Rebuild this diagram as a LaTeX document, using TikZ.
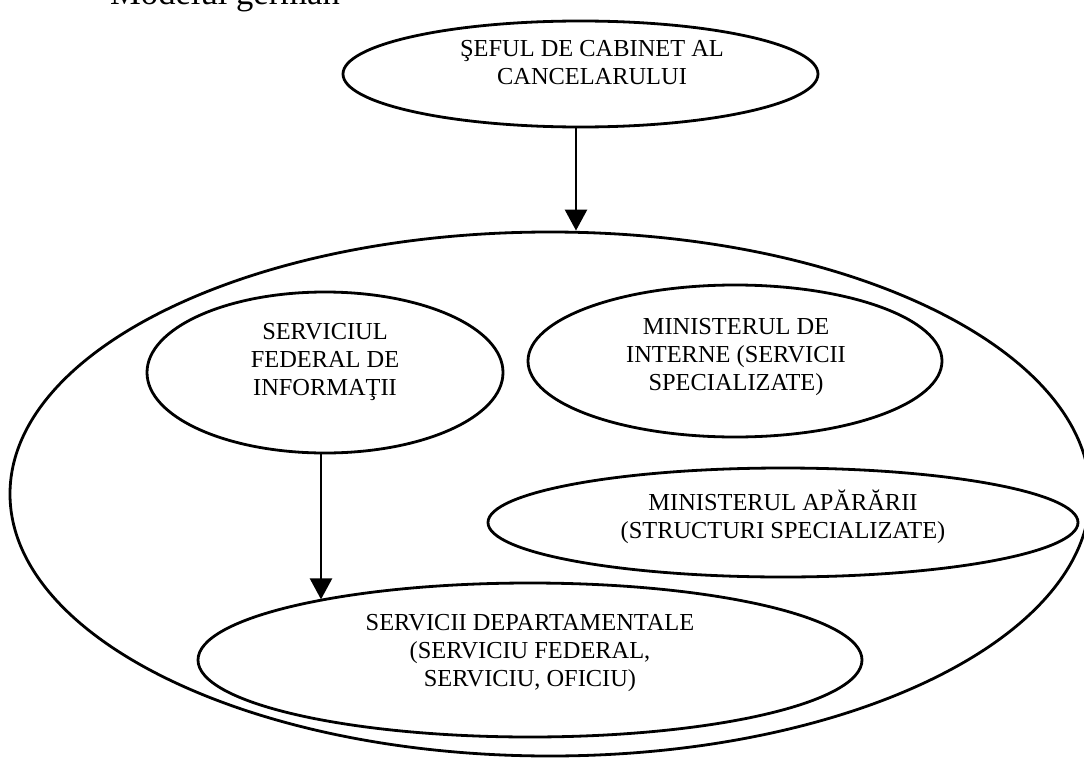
\documentclass[tikz,border=0pt]{standalone}
\usepackage{fontspec}
\setmainfont{Liberation Serif}
\usetikzlibrary{shapes.geometric,arrows.meta}

\tikzset{
  oval/.style={draw, ellipse, line width=2.8pt, inner sep=0pt},
  lbl/.style={align=center, font=\fontsize{24.4}{28}\selectfont, inner sep=0pt},
  arr/.style={line width=2.6pt, -{Triangle[width=22pt,length=21pt]}}
}

\begin{document}
\begin{tikzpicture}[x=1pt,y=-1pt]
\useasboundingbox (0,0) rectangle (1084,760);

% title
\node[anchor=base west, font=\fontsize{34.6}{38}\selectfont, inner sep=0pt] (title) at (110,5) {Modelul german};

% chief of the chancellor's cabinet
\node[oval, minimum width=475pt, minimum height=106pt] (sef) at (580.5,74) {};
\node[lbl] (sef-t) at (592,63) {ŞEFUL DE CABINET AL\\CANCELARULUI};

% the enclosing community
\node[oval, minimum width=1080pt, minimum height=524pt] (all) at (550,494) {};

% member services
\node[oval, minimum width=356pt, minimum height=161pt] (bnd) at (325,372.5) {};
\node[lbl] (bnd-t) at (325,362) {SERVICIUL\\FEDERAL DE\\INFORMAŢII};

\node[oval, minimum width=414pt, minimum height=152pt] (int) at (735,361) {};
\node[lbl] (int-t) at (736,357) {MINISTERUL DE\\INTERNE (SERVICII\\SPECIALIZATE)};

\node[oval, minimum width=590pt, minimum height=109pt] (def) at (783,522.5) {};
\node[lbl] (def-t) at (783,517) {MINISTERUL APĂRĂRII\\(STRUCTURI SPECIALIZATE)};

\node[oval, minimum width=664pt, minimum height=154pt] (dep) at (530,660) {};
\node[lbl] (dep-t) at (530,653) {SERVICII DEPARTAMENTALE\\(SERVICIU FEDERAL,\\SERVICIU, OFICIU)};

% connectors (both vertical)
\coordinate (c1) at (576,0);
\coordinate (c2) at (321,0);
\draw[arr] (sef.south -| c1) -- (all.north -| c1);
\draw[arr] (bnd.south -| c2) -- (dep.164 -| c2);
\end{tikzpicture}
\end{document}
